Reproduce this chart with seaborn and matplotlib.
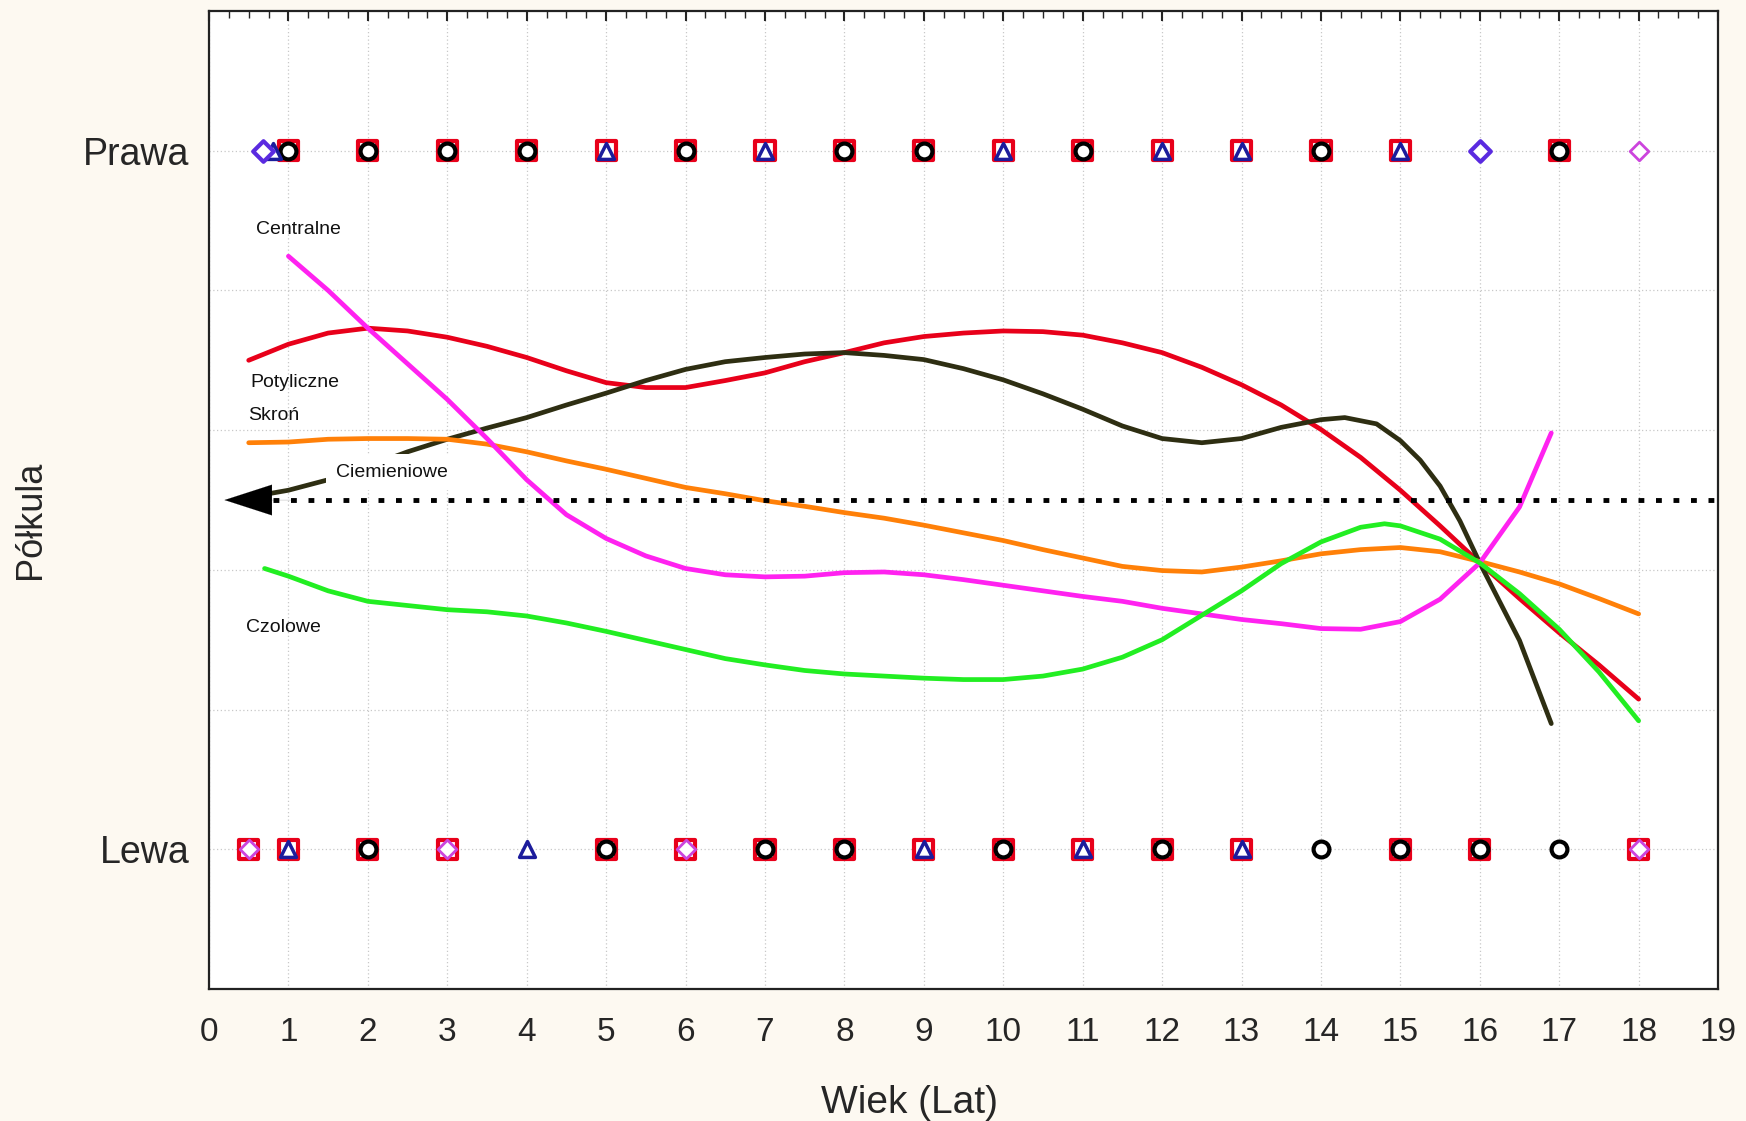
import matplotlib
matplotlib.use("Agg")
import matplotlib.pyplot as plt
import seaborn as sns
import pandas as pd
import numpy as np

# --- curves (x = age in years, y = hemisphere score 0 = Lewa, 1 = Prawa) ---
potyliczne_x = [0.5, 1, 1.5, 2, 2.5, 3, 3.5, 4, 4.5, 5, 5.5, 6, 6.5, 7, 7.5, 8, 8.5, 9, 9.5, 10,
                10.5, 11, 11.5, 12, 12.5, 13, 13.5, 14, 14.5, 15, 15.5, 16, 16.5, 17, 17.5, 18]
potyliczne_y = [0.700, 0.723, 0.739, 0.746, 0.742, 0.733, 0.720, 0.704, 0.685, 0.668, 0.661, 0.661,
                0.671, 0.682, 0.698, 0.711, 0.725, 0.734, 0.739, 0.742, 0.741, 0.736, 0.725, 0.711,
                0.690, 0.665, 0.636, 0.601, 0.561, 0.514, 0.463, 0.410, 0.359, 0.310, 0.264, 0.215]

ciemieniowe_x = [0.75, 1, 1.5, 2, 2.5, 3, 3.5, 4, 4.5, 5, 5.5, 6, 6.5, 7, 7.5, 8, 8.5, 9, 9.5, 10,
                 10.5, 11, 11.5, 12, 12.5, 13, 13.5, 14, 14.3, 14.7, 15, 15.25, 15.5, 15.75, 16,
                 16.5, 16.9]
ciemieniowe_y = [0.509, 0.514, 0.529, 0.548, 0.569, 0.587, 0.603, 0.618, 0.636, 0.653, 0.671, 0.687,
                 0.698, 0.704, 0.709, 0.711, 0.707, 0.701, 0.688, 0.672, 0.652, 0.630, 0.606, 0.588,
                 0.582, 0.588, 0.604, 0.615, 0.618, 0.609, 0.585, 0.557, 0.520, 0.470, 0.410,
                 0.299, 0.180]

skron_x = [0.5, 1, 1.5, 2, 2.5, 3, 3.5, 4, 4.5, 5, 5.5, 6, 6.5, 7, 7.5, 8, 8.5, 9, 9.5, 10,
           10.5, 11, 11.5, 12, 12.5, 13, 13.5, 14, 14.5, 15, 15.5, 16, 16.5, 17, 17.5, 18]
skron_y = [0.582, 0.583, 0.587, 0.588, 0.588, 0.587, 0.580, 0.569, 0.556, 0.544, 0.531, 0.518,
           0.509, 0.499, 0.491, 0.482, 0.474, 0.464, 0.453, 0.442, 0.429, 0.417, 0.405, 0.399,
           0.397, 0.404, 0.413, 0.423, 0.429, 0.432, 0.426, 0.412, 0.397, 0.380, 0.359, 0.337]

centralne_x = [1, 1.5, 2, 2.5, 3, 3.5, 4, 4.5, 5, 5.5, 6, 6.5, 7, 7.5, 8, 8.5, 9, 9.5, 10,
               10.5, 11, 11.5, 12, 12.5, 13, 13.5, 14, 14.5, 15, 15.5, 16, 16.5, 16.9]
centralne_y = [0.849, 0.800, 0.746, 0.695, 0.644, 0.588, 0.529, 0.479, 0.445, 0.420, 0.402, 0.393,
               0.390, 0.391, 0.396, 0.397, 0.393, 0.386, 0.378, 0.370, 0.362, 0.355, 0.345, 0.337,
               0.329, 0.323, 0.316, 0.315, 0.326, 0.358, 0.410, 0.490, 0.596]

czolowe_x = [0.7, 1, 1.5, 2, 2.5, 3, 3.5, 4, 4.5, 5, 5.5, 6, 6.5, 7, 7.5, 8, 8.5, 9, 9.5, 10,
             10.5, 11, 11.5, 12, 12.5, 13, 13.5, 14, 14.5, 14.8, 15, 15.5, 16, 16.5, 17, 17.5, 18]
czolowe_y = [0.402, 0.391, 0.370, 0.355, 0.349, 0.343, 0.340, 0.334, 0.324, 0.312, 0.299, 0.286,
             0.273, 0.264, 0.256, 0.251, 0.248, 0.245, 0.243, 0.243, 0.248, 0.258, 0.275, 0.300,
             0.335, 0.370, 0.409, 0.440, 0.461, 0.466, 0.463, 0.444, 0.410, 0.366, 0.315, 0.254, 0.184]

# --- observed points on the two hemisphere rows ---
prawa_square = [1, 2, 3, 4, 5, 6, 7, 8, 9, 10, 11, 12, 13, 14, 15, 17]
prawa_circle = [1, 2, 3, 4, 6, 8, 9, 11, 14, 17]
prawa_triangle = [0.8, 5, 7, 10, 12, 13, 15]
prawa_diamond = [0.68, 16]
prawa_diamond_mag = [18]

lewa_square = [0.5, 1, 2, 3, 5, 6, 7, 8, 9, 10, 11, 12, 13, 15, 16, 18]
lewa_circle = [2, 5, 7, 8, 10, 12, 14, 15, 16, 17]
lewa_triangle = [1, 4, 9, 11, 13]
lewa_diamond_mag = [0.5, 3, 6, 18]

y_labels = ["Lewa", "Prawa"]

curves = pd.concat([
    pd.DataFrame({"x": potyliczne_x, "y": potyliczne_y, "region": "Potyliczne"}),
    pd.DataFrame({"x": ciemieniowe_x, "y": ciemieniowe_y, "region": "Ciemieniowe"}),
    pd.DataFrame({"x": skron_x, "y": skron_y, "region": "Skroń"}),
    pd.DataFrame({"x": centralne_x, "y": centralne_y, "region": "Centralne"}),
    pd.DataFrame({"x": czolowe_x, "y": czolowe_y, "region": "Czolowe"}),
])
palette = {"Potyliczne": "#e8001a", "Ciemieniowe": "#2e2e12", "Skroń": "#ff8008",
           "Centralne": "#ff22f0", "Czolowe": "#22ee22"}

sns.set_style("white")
plt.rcParams["font.family"] = ["Liberation Sans", "DejaVu Sans"]

fig = plt.figure(figsize=(17.46, 11.21), dpi=100, facecolor="#fdf9f1")
ax = fig.add_axes([0.1197, 0.1177, 0.8643, 0.8725])
ax.set_facecolor("white")

sns.lineplot(data=curves, x="x", y="y", hue="region", palette=palette, linewidth=3.4,
             sort=False, estimator=None, legend=False, ax=ax, zorder=3)

# markers
def pts(xs, yv, **kw):
    sns.scatterplot(x=xs, y=[yv] * len(xs), ax=ax, legend=False, **kw)

for xs, yv in [(prawa_square, 1), (lewa_square, 0)]:
    pts(xs, yv, marker="s", s=190, facecolor="none", edgecolor="#e8001a", linewidth=3, zorder=4)
for xs, yv in [(prawa_diamond_mag, 1), (lewa_diamond_mag, 0)]:
    pts(xs, yv, marker="D", s=90, facecolor="white", edgecolor="#cc44dd", linewidth=2, zorder=5)
for xs, yv in [(prawa_circle, 1), (lewa_circle, 0)]:
    pts(xs, yv, marker="o", s=130, facecolor="white", edgecolor="black", linewidth=3, zorder=6)
for xs, yv in [(prawa_triangle, 1), (lewa_triangle, 0)]:
    pts(xs, yv, marker="^", s=130, facecolor="white", edgecolor="#1c1c9c", linewidth=2.5, zorder=6)
pts(prawa_diamond, 1, marker="D", s=110, facecolor="white", edgecolor="#5a2ae0", linewidth=3, zorder=6)

# dotted reference line with arrow head
ax.plot([0.8, 19], [0.5, 0.5], color="black", linestyle=(0, (1.2, 2.4)), linewidth=3.5, zorder=4)
ax.annotate("", xy=(0.16, 0.5), xytext=(1.1, 0.5),
            arrowprops=dict(arrowstyle="-|>,head_length=3.4,head_width=1.1",
                            color="black", lw=0.1), zorder=5)

# curve labels
lab = dict(fontsize=14, va="center", ha="left", color="#111111", zorder=7)
ax.text(0.59, 0.887, "Centralne", **lab)
ax.text(0.52, 0.668, "Potyliczne", **lab)
ax.text(0.49, 0.621, "Skroń", **lab)
ax.text(1.6, 0.54, "Ciemieniowe", bbox=dict(facecolor="white", edgecolor="none", pad=7), **lab)
ax.text(0.46, 0.318, "Czolowe", **lab)

ax.set_xlim(0, 19)
ax.set_ylim(-0.2, 1.2)
ax.set_xticks(range(0, 20))
ax.set_xticks(np.arange(0, 19.01, 0.25), minor=True)
ax.set_yticks([0, 0.2, 0.4, 0.6, 0.8, 1.0])
ax.set_yticklabels([y_labels[0], "", "", "", "", y_labels[1]])
ax.set_yticks(np.arange(-0.1, 1.15, 0.2), minor=True)

ax.grid(True, which="major", color="#c8c8c8", linestyle=(0, (1, 2)), linewidth=0.9)
ax.tick_params(axis="x", which="both", direction="in", top=True, length=7, width=1.5,
               labelsize=24, pad=20)
ax.tick_params(axis="x", which="minor", length=5, width=1)
ax.tick_params(axis="y", which="both", direction="out", length=6, width=1.5,
               labelsize=27, pad=8)
for s in ax.spines.values():
    s.set_linewidth(1.6)
    s.set_color("#222222")

ax.set_xlabel("Wiek (Lat)", fontsize=28, va="center")
ax.set_ylabel("Półkula", fontsize=26, va="center")
ax.xaxis.set_label_coords(0.464, -0.117)
ax.yaxis.set_label_coords(-0.118, 0.48)

fig.savefig("out.png", dpi=100, facecolor=fig.get_facecolor())
